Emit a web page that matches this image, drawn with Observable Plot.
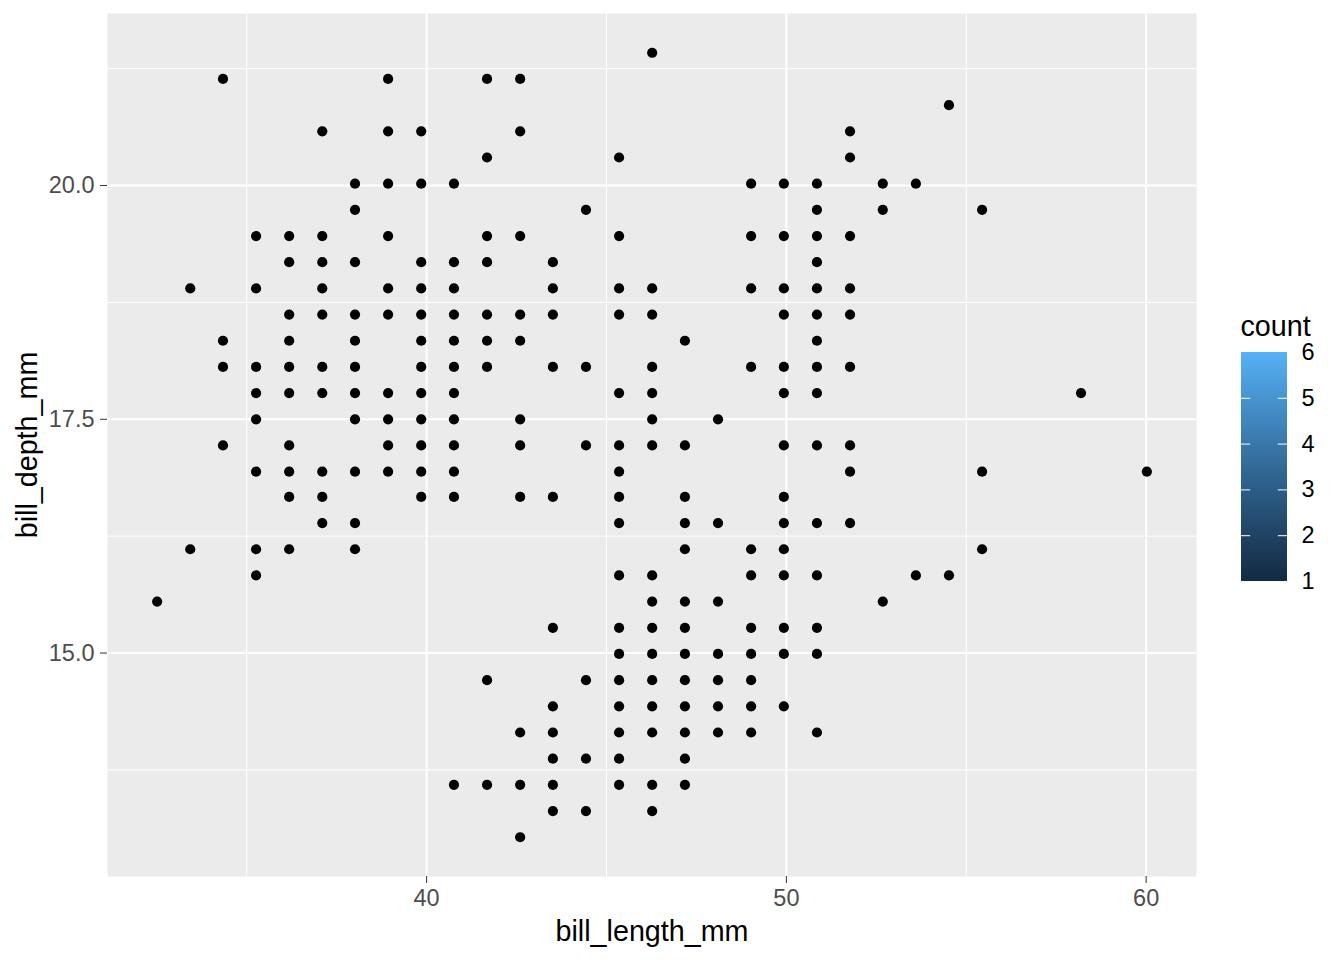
<!DOCTYPE html>
<html><head><meta charset="utf-8">
<script src="https://cdn.jsdelivr.net/npm/d3@7"></script>
<script src="https://cdn.jsdelivr.net/npm/@observablehq/plot@0.6"></script>
<style>
body{margin:0;background:#fff;}
#wrap{position:relative;width:1344px;height:960px;overflow:hidden;}
#chart{position:absolute;left:0;top:0;}
#legend{position:absolute;left:1200px;top:300px;}
</style></head><body><div id="wrap"><div id="chart"></div><div id="legend"></div></div>
<script>
// bin centres (bill_length_mm) for the 31 columns
const binX = [32.51, 33.43, 34.34, 35.26, 36.18, 37.10, 38.01, 38.93, 39.85, 40.76,
              41.68, 42.60, 43.51, 44.43, 45.35, 46.27, 47.18, 48.10, 49.02, 49.93,
              50.85, 51.77, 52.68, 53.60, 54.52, 55.44, 56.35, 57.27, 58.19, 59.10, 60.02];
// bin centres (bill_depth_mm) for the 31 rows, top to bottom
const binY = [21.42, 21.14, 20.86, 20.58, 20.30, 20.02, 19.74, 19.46, 19.18, 18.90,
              18.62, 18.34, 18.06, 17.78, 17.50, 17.22, 16.94, 16.67, 16.39, 16.11,
              15.83, 15.55, 15.27, 14.99, 14.71, 14.43, 14.15, 13.87, 13.59, 13.31, 13.03];
// occupied column indices in each row
const occupied = [
  [15],
  [2, 7, 10, 11],
  [24],
  [5, 7, 8, 11, 21],
  [10, 14, 21],
  [6, 7, 8, 9, 18, 19, 20, 22, 23],
  [6, 13, 20, 22, 25],
  [3, 4, 5, 7, 10, 11, 14, 18, 19, 20, 21],
  [4, 5, 6, 8, 9, 10, 12, 20],
  [1, 3, 5, 7, 8, 9, 12, 14, 15, 18, 19, 20, 21],
  [4, 5, 6, 7, 8, 9, 10, 11, 12, 14, 15, 19, 20, 21],
  [2, 4, 6, 8, 9, 10, 11, 16, 20],
  [2, 3, 4, 5, 6, 8, 9, 10, 12, 13, 15, 18, 19, 20, 21],
  [3, 4, 5, 6, 7, 8, 9, 14, 15, 19, 20, 28],
  [3, 6, 7, 8, 9, 11, 15, 17],
  [2, 4, 7, 8, 9, 11, 13, 14, 15, 16, 19, 20, 21],
  [3, 4, 5, 6, 7, 8, 9, 14, 21, 25, 30],
  [4, 5, 8, 9, 11, 12, 14, 16, 19],
  [5, 6, 14, 16, 17, 19, 20, 21],
  [1, 3, 4, 6, 16, 18, 19, 25],
  [3, 14, 15, 18, 19, 20, 23, 24],
  [0, 15, 16, 17, 22],
  [12, 14, 15, 16, 18, 19, 20],
  [14, 15, 16, 17, 18, 19, 20],
  [10, 13, 14, 15, 16, 17, 18],
  [12, 14, 15, 16, 17, 18, 19],
  [11, 12, 14, 15, 16, 17, 18, 20],
  [12, 13, 14, 16],
  [9, 10, 11, 12, 14, 15, 16],
  [12, 13, 15],
  [11]
];
const xMajor = [40, 50, 60];
const xMinor = [35, 45, 55];
const yMajor = [15, 17.5, 20];
const yMinor = [13.75, 16.25, 18.75, 21.25];
const countDomain = [1, 6];
const countTicks = [1, 2, 3, 4, 5, 6];
const countInnerTicks = [2, 3, 4, 5];
const xTitle = "bill_length_mm";
const yTitle = "bill_depth_mm";
const legendTitle = "count";

const points = occupied.flatMap((cols, j) => cols.map(i => ({bill_length_mm: binX[i], bill_depth_mm: binY[j]})));

const FONT = "'Liberation Sans', Arial, Helvetica, sans-serif";

const chart = Plot.plot({
  width: 1344,
  height: 960,
  marginLeft: 107,
  marginRight: 148,
  marginTop: 13,
  marginBottom: 84,
  style: {fontFamily: FONT, fontSize: "23.5px", background: "transparent"},
  x: {domain: [31.13, 61.40]},
  y: {domain: [12.61, 21.84]},
  marks: [
    Plot.frame({fill: "#EBEBEB", stroke: null}),
    Plot.ruleX(xMinor, {stroke: "white", strokeWidth: 1}),
    Plot.ruleY(yMinor, {stroke: "white", strokeWidth: 1}),
    Plot.ruleX(xMajor, {stroke: "white", strokeWidth: 2}),
    Plot.ruleY(yMajor, {stroke: "white", strokeWidth: 2}),
    Plot.axisX({ticks: xMajor, tickSize: 7, tickPadding: 6, label: null, color: "#4D4D4D", stroke: "#333333", fontSize: 23.5}),
    Plot.axisY({ticks: yMajor, tickSize: 7, tickPadding: 6, label: null, tickFormat: d3.format(".1f"), color: "#4D4D4D", stroke: "#333333", fontSize: 23.5}),
    Plot.dot(points, {x: "bill_length_mm", y: "bill_depth_mm", r: 5.1, fill: "black", stroke: null}),
    Plot.text([xTitle], {frameAnchor: "bottom", dy: 64, lineAnchor: "bottom", textAnchor: "middle", fontSize: 28.7, fill: "black"}),
    Plot.text([yTitle], {frameAnchor: "left", dx: -71, rotate: -90, lineAnchor: "bottom", textAnchor: "middle", fontSize: 28.7, fill: "black"})
  ]
});
document.getElementById("chart").appendChild(chart);

// colour bar legend: one 1-px band per pixel row of the 229-px bar
const barPixels = 229;
const rampSteps = d3.range(0, barPixels).map(k => countDomain[0] + k * (countDomain[1] - countDomain[0]) / barPixels);
const stepSize = (countDomain[1] - countDomain[0]) / barPixels;
const legend = Plot.plot({
  width: 144,
  height: 300,
  marginLeft: 41,
  marginRight: 57,
  marginTop: 52,
  marginBottom: 19,
  style: {fontFamily: FONT, fontSize: "23.5px", background: "transparent", overflow: "visible"},
  x: {domain: [0, 1], axis: null},
  y: {domain: countDomain, axis: null},
  color: {type: "linear", domain: countDomain, range: ["#132B43", "#56B1F7"], interpolate: "lab"},
  marks: [
    Plot.rect(rampSteps, {x1: 0, x2: 1, y1: d => d, y2: d => d + stepSize, fill: d => d + stepSize / 2, inset: 0, shapeRendering: "crispEdges"}),
    Plot.ruleY(countInnerTicks, {x1: 0, x2: 0.2, stroke: "white", strokeWidth: 1}),
    Plot.ruleY(countInnerTicks, {x1: 0.8, x2: 1, stroke: "white", strokeWidth: 1}),
    Plot.text(countTicks, {x: 1, y: d => d, text: d => String(d), dx: 14, textAnchor: "start", fill: "black", fontSize: 23.5}),
    Plot.text([legendTitle], {frameAnchor: "top-left", dx: -1, dy: -17, lineAnchor: "bottom", textAnchor: "start", fontSize: 28.7, fill: "black"})
  ]
});
document.getElementById("legend").appendChild(legend);
</script>
</body></html>
